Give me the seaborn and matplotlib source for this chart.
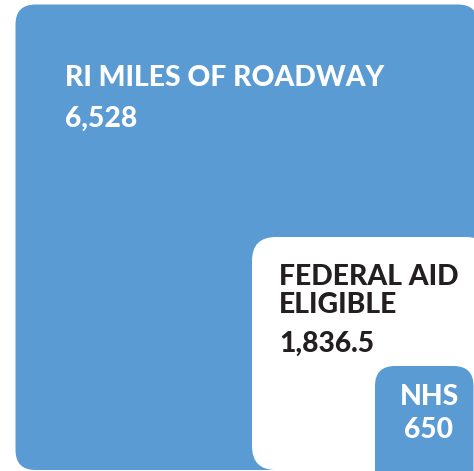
import matplotlib
matplotlib.use("Agg")
import matplotlib.pyplot as plt
from matplotlib.patches import FancyBboxPatch
import seaborn as sns

# ---- data ----
categories = ["RI MILES OF ROADWAY", "FEDERAL AID\nELIGIBLE", "NHS"]
values = [6528, 1836.5, 650]
value_labels = ["6,528", "1,836.5", "650"]

# ---- style ----
sns.set_theme(style="white")
plt.rcParams["font.family"] = ["Lato", "DejaVu Sans"]
BLUE = "#5B9BD4"
DARK = "#231F20"

W, H = 474, 471
fig = plt.figure(figsize=(W / 100, H / 100), dpi=100)
ax = fig.add_axes([0, 0, 1, 1])
ax.set_xlim(0, W)
ax.set_ylim(H, 0)
ax.axis("off")

# layout boxes: (left, top, right, bottom, radius, face)
boxes = [
    (15.5, 4.5, 478, 470, 20, BLUE),
    (252, 237, 490, 470, 24, "white"),
    (375, 366, 473.5, 490, 20, BLUE),
]
for (l, t, r, b, rad, fc) in boxes:
    p = FancyBboxPatch((l, t), r - l, b - t,
                       boxstyle=f"round,pad=0,rounding_size={rad}",
                       facecolor=fc, edgecolor="none", clip_on=True)
    ax.add_patch(p)

fs = 20.3
kw = dict(fontsize=fs, fontweight="black", va="baseline")

ax.text(65, 86, categories[0], color="white", ha="left", **kw)
ax.text(65, 127, value_labels[0], color="white", ha="left", **kw)

line_base = [285, 313]
for line, yb in zip(categories[1].split("\n"), line_base):
    ax.text(279, yb, line, color=DARK, ha="left", **kw)
ax.text(279, 352, value_labels[1], color=DARK, ha="left", **kw)

ax.text(430, 405, categories[2], color="white", ha="center", **kw)
ax.text(429, 438, value_labels[2], color="white", ha="center", **kw)

fig.savefig("out.png", dpi=100, facecolor="white")
